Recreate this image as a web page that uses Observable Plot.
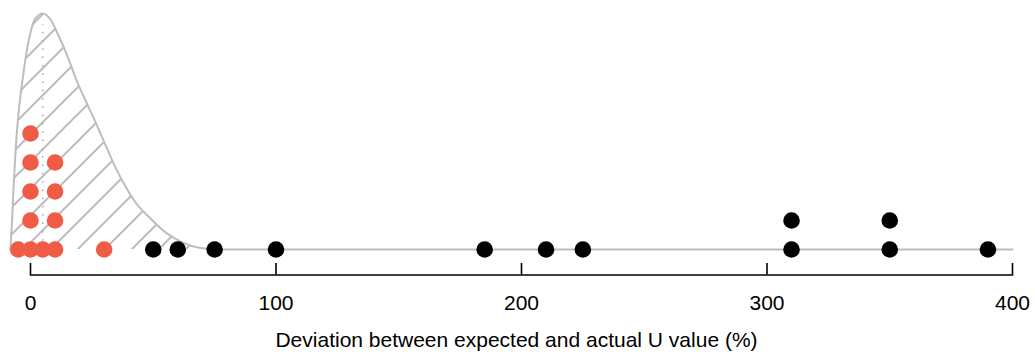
<!DOCTYPE html>
<html>
<head>
<meta charset="utf-8">
<script src="https://cdn.jsdelivr.net/npm/d3@7"></script>
<script src="https://cdn.jsdelivr.net/npm/@observablehq/plot@0.6"></script>
<style>
  body { margin: 0; background: #fff; }
  #chart svg { font-family: "Liberation Sans", Arial, sans-serif; }
</style>
</head>
<body>
<div id="chart"></div>
<script>
// Deviation (%) per building: close to expectation (red) and far off (black)
const closeValues = [-5, 0, 0, 0, 0, 0, 5, 10, 10, 10, 10, 30];
const farValues = [50, 60, 75, 100, 185, 210, 225, 310, 310, 350, 350, 390];

// Density curve of the expected deviation (x in %, height in dot-row units)
const curveX = [-8.2, -7.5, -6.8, -6.0, -5.1, -4.1, -3.0, -1.8, -0.5, 1.3, 3.2, 5,
  8.15, 11.4, 15.1, 18.3, 22.4, 26.9, 30.6, 34.6, 38.7, 42.8, 48.9, 55.0, 61.1, 69.3, 77.4, 150, 250, 400];
const curveY = [0, 1.0, 2.3, 3.5, 4.5, 5.3, 6.0, 6.7, 7.3, 7.85, 8.08, 8.14,
  7.93, 7.38, 6.66, 5.93, 5.14, 4.31, 3.59, 2.83, 2.17, 1.62, 1.07, 0.59, 0.28, 0.05, 0, 0, 0, 0];

// Mode of the curve, marked with a dotted line
const modeX = 5;
const modeTop = 7.75;

const tickValues = [0, 100, 200, 300, 400];
const axisTitle = "Deviation between expected and actual U value (%)";

const closeColor = "#ef5b45";
const farColor = "#000000";
const curveColor = "#bdbdbd";

// Stack repeated values into rows, like a dot plot
function stackRows(values, group) {
  const seen = new Map();
  return values.map(v => {
    const row = seen.get(v) || 0;
    seen.set(v, row + 1);
    return {value: v, row, group};
  });
}
const dots = [...stackRows(closeValues, "close"), ...stackRows(farValues, "far")];
const curve = curveX.map((x, i) => ({x, y: curveY[i]}));

// Diagonal hatching used to fill the density area
function hatchDefs() {
  const ns = "http://www.w3.org/2000/svg";
  const defs = document.createElementNS(ns, "defs");
  const pat = document.createElementNS(ns, "pattern");
  const s = 27;
  pat.setAttribute("id", "hatch");
  pat.setAttribute("patternUnits", "userSpaceOnUse");
  pat.setAttribute("width", s);
  pat.setAttribute("height", s);
  pat.setAttribute("x", 3);
  const path = document.createElementNS(ns, "path");
  path.setAttribute("d", `M0,${s}L${s},0M-2,2L2,-2M${s - 2},${s + 2}L${s + 2},${s - 2}`);
  path.setAttribute("stroke", curveColor);
  path.setAttribute("stroke-width", 2);
  pat.appendChild(path);
  defs.appendChild(pat);
  return defs;
}

const chart = Plot.plot({
  width: 1035,
  height: 354,
  marginLeft: 30,
  marginRight: 23,
  marginTop: 10,
  marginBottom: 91,
  style: {background: "#fff", color: "#000", fontSize: "21px", fontFamily: "'Liberation Sans', Arial, sans-serif"},
  x: {domain: [0, 400], range: [30, 1012], axis: null},
  y: {domain: [0, 8], range: [249, 17], axis: null},
  marks: [
    hatchDefs,
    Plot.areaY(curve, {x: "x", y: "y", fill: "url(#hatch)", curve: "monotone-x"}),
    Plot.ruleX([modeX], {y1: 0, y2: modeTop, stroke: "#a8a8a8", strokeWidth: 1.5, strokeDasharray: "1.5 6.8"}),
    Plot.line(curve, {x: "x", y: "y", stroke: curveColor, strokeWidth: 2, curve: "monotone-x"}),
    Plot.dot(dots, {x: "value", y: "row", r: 8.3, fill: d => d.group === "close" ? closeColor : farColor, stroke: null}),
    Plot.frame({anchor: "bottom", dy: 11.5, strokeWidth: 1.6}),
    Plot.axisX({ticks: tickValues, tickSize: 11.5, tickPadding: 20, strokeWidth: 1.6, fontSize: 21, label: null, tickFormat: d => String(d)}),
    Plot.text([axisTitle], {frameAnchor: "bottom", dy: 77, dx: -5, lineAnchor: "middle", fontSize: 21, fill: "#000"})
  ]
});
document.getElementById("chart").appendChild(chart);
</script>
</body>
</html>
